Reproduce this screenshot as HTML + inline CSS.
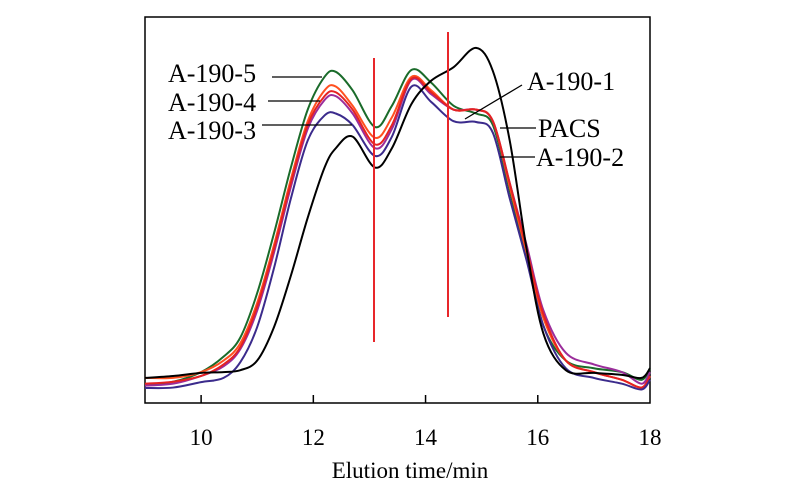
<!DOCTYPE html>
<html><head><meta charset="utf-8"><style>
html,body{margin:0;padding:0;background:#fff;}
svg{display:block;font-family:"Liberation Serif",serif;}
</style></head><body>
<svg id="chart" width="800" height="493" xmlns="http://www.w3.org/2000/svg">
<rect x="145" y="17" width="505" height="386" fill="none" stroke="#000" stroke-width="1.5"/>
<g id="ticks"></g>
<g id="series"></g>
<line x1="374" y1="58" x2="374" y2="342" stroke="#e8262a" stroke-width="2"/>
<line x1="448" y1="32" x2="448" y2="317" stroke="#e8262a" stroke-width="2"/>
<g font-size="26" fill="#000">
<text x="168" y="82">A-190-5</text>
<line x1="272" y1="77" x2="322" y2="77" stroke="#000" stroke-width="1.3"/>
<text x="168" y="111">A-190-4</text>
<line x1="268" y1="101" x2="320" y2="101" stroke="#000" stroke-width="1.3"/>
<text x="168" y="139">A-190-3</text>
<line x1="262" y1="125" x2="352" y2="125" stroke="#000" stroke-width="1.3"/>
<text x="527" y="90">A-190-1</text>
<line x1="522" y1="85" x2="465" y2="119" stroke="#000" stroke-width="1.3"/>
<text x="538" y="137">PACS</text>
<line x1="500" y1="128" x2="536" y2="128" stroke="#000" stroke-width="1.3"/>
<text x="536" y="166">A-190-2</text>
<line x1="500" y1="157" x2="535" y2="157" stroke="#000" stroke-width="1.3"/>
</g>
<text x="410" y="478" font-size="23" text-anchor="middle">Elution time/min</text>
</svg>
<script>
const xTicks = [10, 12, 14, 16, 18];
const times = [9,9.5,10,10.4,10.7,11,11.3,11.6,11.9,12.2,12.4,12.7,13.1,13.4,13.75,14.1,14.5,14.9,15.2,15.5,15.8,16.1,16.5,17,17.5,17.85,18];
const seriesNames = ["PACS","A-190-5","A-190-4","A-190-3","A-190-1","A-190-2"];
const seriesColors = ["#000000","#1a6b2a","#ff5020","#9b2d9b","#e52222","#3b2b8c"];
const pacs = [6.5,7,7.8,8,8.5,11,19.7,33,48,61,66,69,61,66,77.5,83.5,87,92,86,68,40,18,8.5,7.8,7.3,6.5,9];
const a5 = [4.7,5.5,8,12,17,28.5,44,61,76,84.5,85.8,81,71.5,77,86.3,83,77,75,72,55,38,20,11,9,8,6,9];
const a4 = [6.5,6.5,8,11,15.5,26,41,58,73,81,82,77,68.7,74,84.5,81,76,76,73,56,39,22,11,8,6,4,7];
const a3 = [4.5,5,7,9.5,14,24,39,56,71,78.5,79.5,75,66,71,83.7,80,76,76,73,57,41,24,13,10,8,5,8];
const a1 = [5,5.5,7,10,14.5,25,40,57,72,79.5,80.5,76,67,72,84,80.5,76,76,73,57,40,23,11,8,6,4,7];
const a2 = [3.9,4,5.4,6.5,10.6,19.7,35,53,68,74.5,75,72,64,69,82,78,73,72.8,70,53,37,20,9,6.5,5,3.5,6];
const allSeries = [pacs,a5,a4,a3,a1,a2];

const NS = "http://www.w3.org/2000/svg";
function xs(t){return 145 + (t-9)*505/9;}
function ys(v){return 403 - v*3.86;}
const tg = document.getElementById('ticks');
xTicks.forEach(t=>{
  if(t<18){
    const l=document.createElementNS(NS,'line');
    l.setAttribute('x1',xs(t));l.setAttribute('x2',xs(t));
    l.setAttribute('y1',403);l.setAttribute('y2',395);
    l.setAttribute('stroke','#000');l.setAttribute('stroke-width','1.5');
    
    
    tg.appendChild(l);
  }
  const tx=document.createElementNS(NS,'text');
  tx.setAttribute('x',xs(t));tx.setAttribute('y',445);
  tx.setAttribute('text-anchor','middle');tx.setAttribute('font-size','23');
  tx.textContent=t;
  
  
  tg.appendChild(tx);
});
function smoothPath(pts){
  let d='M'+pts[0][0]+','+pts[0][1];
  for(let i=0;i<pts.length-1;i++){
    const p0=pts[i-1]||pts[i],p1=pts[i],p2=pts[i+1],p3=pts[i+2]||p2;
    const c1x=p1[0]+(p2[0]-p0[0])/6,c1y=p1[1]+(p2[1]-p0[1])/6;
    const c2x=p2[0]-(p3[0]-p1[0])/6,c2y=p2[1]-(p3[1]-p1[1])/6;
    d+=' C'+c1x+','+c1y+' '+c2x+','+c2y+' '+p2[0]+','+p2[1];
  }
  return d;
}
const sg=document.getElementById('series');
[1,2,3,4,5,0].forEach(i=>{
  const pts=times.map((t,j)=>[xs(t),ys(allSeries[i][j])]);
  const p=document.createElementNS(NS,'path');
  p.setAttribute('d',smoothPath(pts));
  p.setAttribute('fill','none');p.setAttribute('stroke',seriesColors[i]);
  p.setAttribute('stroke-width','2');
  
  
  sg.appendChild(p);
});
</script>
</body></html>
